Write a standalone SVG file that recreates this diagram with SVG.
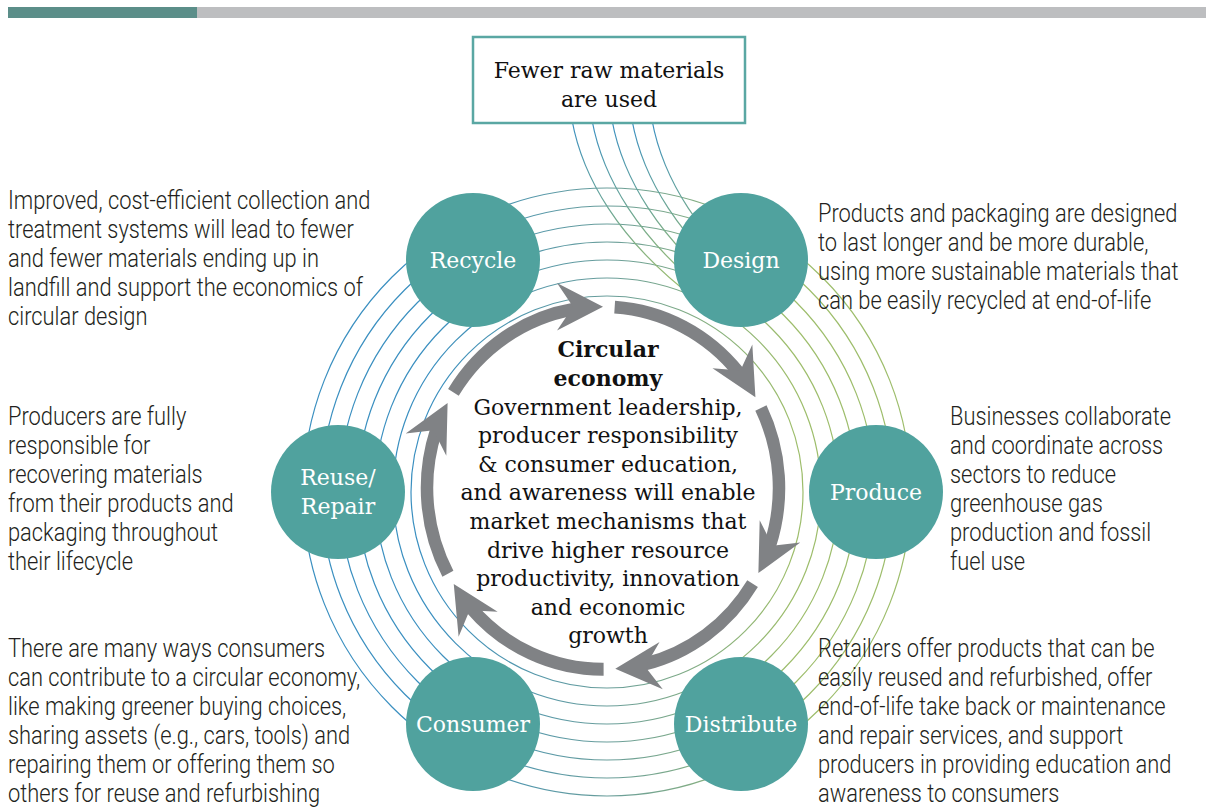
<svg xmlns="http://www.w3.org/2000/svg" width="1206" height="809" viewBox="0 0 1206 809">
<defs>
<style>
.side{font-family:Roboto,"Liberation Sans",sans-serif;font-weight:300;font-size:25px;fill:#231f20}
.lbl{font-family:"DejaVu Serif","Liberation Serif",serif;font-size:22px;fill:#ffffff;text-anchor:middle}
.ctr{font-family:"DejaVu Serif","Liberation Serif",serif;font-size:22px;fill:#111111;text-anchor:middle}
.node{fill:#50a29e}
.ring{fill:none;stroke:url(#gRing);stroke-width:1.2}
.bline{fill:none;stroke:url(#gBox);stroke-width:1.2}
.shaft{fill:none;stroke:#808285;stroke-width:12.5}
.head{fill:#808285}
</style>
<linearGradient id="gRing" gradientUnits="userSpaceOnUse" x1="430" y1="0" x2="790" y2="0">
<stop offset="0" stop-color="#3a8fc0"/>
<stop offset="0.5" stop-color="#6a9e9a"/>
<stop offset="1" stop-color="#9dbd6b"/>
</linearGradient>
<linearGradient id="gBox" gradientUnits="userSpaceOnUse" x1="0" y1="124" x2="0" y2="290">
<stop offset="0" stop-color="#3a8fc0"/>
<stop offset="1" stop-color="#9dbd6b"/>
</linearGradient>
<path id="ah" d="M176,0 L199,-46 L176,-30 L153,-46 Z"/>
</defs>
<rect width="1206" height="809" fill="#ffffff"/>
<rect x="8" y="7" width="189" height="11" fill="#5b8e89"/>
<rect x="197" y="7" width="1009" height="11" fill="#bdbec0"/>

<g id="connectors">
<g id="rings">
<circle class="ring" cx="607" cy="492" r="196"/>
<circle class="ring" cx="607" cy="492" r="214"/>
<circle class="ring" cx="607" cy="492" r="232"/>
<circle class="ring" cx="607" cy="492" r="250"/>
<circle class="ring" cx="607" cy="492" r="268"/>
<circle class="ring" cx="607" cy="492" r="286"/>
<circle class="ring" cx="607" cy="492" r="304"/>
</g>
<g id="box-lines">
<path class="bline" d="M572,120 C582,175 617,240 697,300"/>
<path class="bline" d="M592,120 C602,175 637,240 717,300"/>
<path class="bline" d="M612,120 C622,175 657,240 737,300"/>
<path class="bline" d="M632,120 C642,175 677,240 757,300"/>
<path class="bline" d="M652,120 C662,175 697,240 777,300"/>
</g>
<g id="cycle-arrows" transform="translate(603,488) scale(1,1.03)">
<path class="shaft" d="M11.67,-175.61 A176,176 0 0 1 135.80,-111.95"/>
<path class="shaft" d="M157.92,-77.70 A176,176 0 0 1 166.90,55.85"/>
<path class="shaft" d="M149.58,92.75 A176,176 0 0 1 41.08,171.14"/>
<path class="shaft" d="M0.61,176 A176,176 0 0 1 -131.82,116.62"/>
<path class="shaft" d="M-155.11,83.18 A176,176 0 0 1 -166.90,-55.85"/>
<path class="shaft" d="M-149.58,-92.75 A176,176 0 0 1 -29.04,-173.59"/>
<use href="#ah" class="head" transform="rotate(-30)"/>
<use href="#ah" class="head" transform="rotate(28)"/>
<use href="#ah" class="head" transform="rotate(86)"/>
<use href="#ah" class="head" transform="rotate(148)"/>
<use href="#ah" class="head" transform="rotate(208)"/>
<use href="#ah" class="head" transform="rotate(270)"/>
</g>
</g>

<g id="box">
<rect x="473" y="37" width="272" height="86" fill="#ffffff" stroke="#5aa7a3" stroke-width="2.5"/>
<text class="ctr" font-size="24" x="609" y="78">Fewer raw materials</text>
<text class="ctr" font-size="24" x="609" y="107">are used</text>
</g>

<g id="recycle"><circle class="node" cx="473" cy="260" r="67"/><text class="lbl" x="473" y="268">Recycle</text></g>
<g id="design"><circle class="node" cx="741" cy="260" r="67"/><text class="lbl" x="741" y="268">Design</text></g>
<g id="produce"><circle class="node" cx="876" cy="492" r="67"/><text class="lbl" x="876" y="500">Produce</text></g>
<g id="distribute"><circle class="node" cx="741" cy="724" r="67"/><text class="lbl" x="741" y="732">Distribute</text></g>
<g id="consumer"><circle class="node" cx="473" cy="724" r="67"/><text class="lbl" x="473" y="732">Consumer</text></g>
<g id="reuse"><circle class="node" cx="338" cy="492" r="67"/><text class="lbl" x="338" y="485">Reuse/</text><text class="lbl" x="338" y="514">Repair</text></g>

<g id="center-text">
<text class="ctr" x="608" y="357" font-weight="bold">Circular</text>
<text class="ctr" x="608" y="386" font-weight="bold">economy</text>
<text class="ctr" x="608" y="415">Government leadership,</text>
<text class="ctr" x="608" y="443">producer responsibility</text>
<text class="ctr" x="608" y="472">&amp; consumer education,</text>
<text class="ctr" x="608" y="500">and awareness will enable</text>
<text class="ctr" x="608" y="529">market mechanisms that</text>
<text class="ctr" x="608" y="558">drive higher resource</text>
<text class="ctr" x="608" y="586">productivity, innovation</text>
<text class="ctr" x="608" y="615">and economic</text>
<text class="ctr" x="608" y="643">growth</text>
</g>

<g id="text-recycle" transform="translate(8,0) scale(0.875,1)">
<text class="side"><tspan x="0" y="209">Improved, cost-efficient collection and</tspan><tspan x="0" y="238">treatment systems will lead to fewer</tspan><tspan x="0" y="267">and fewer materials ending up in</tspan><tspan x="0" y="296">landfill and support the economics of</tspan><tspan x="0" y="325">circular design</tspan></text>
</g>
<g id="text-design" transform="translate(818,0) scale(0.875,1)">
<text class="side"><tspan x="0" y="222">Products and packaging are designed</tspan><tspan x="0" y="251">to last longer and be more durable,</tspan><tspan x="0" y="280">using more sustainable materials that</tspan><tspan x="0" y="309">can be easily recycled at end-of-life</tspan></text>
</g>
<g id="text-produce" transform="translate(950,0) scale(0.875,1)">
<text class="side"><tspan x="0" y="425">Businesses collaborate</tspan><tspan x="0" y="454">and coordinate across</tspan><tspan x="0" y="483">sectors to reduce</tspan><tspan x="0" y="512">greenhouse gas</tspan><tspan x="0" y="541">production and fossil</tspan><tspan x="0" y="570">fuel use</tspan></text>
</g>
<g id="text-reuse" transform="translate(8,0) scale(0.875,1)">
<text class="side"><tspan x="0" y="425">Producers are fully</tspan><tspan x="0" y="454">responsible for</tspan><tspan x="0" y="483">recovering materials</tspan><tspan x="0" y="512">from their products and</tspan><tspan x="0" y="541">packaging throughout</tspan><tspan x="0" y="570">their lifecycle</tspan></text>
</g>
<g id="text-distribute" transform="translate(818,0) scale(0.875,1)">
<text class="side"><tspan x="0" y="657">Retailers offer products that can be</tspan><tspan x="0" y="686">easily reused and refurbished, offer</tspan><tspan x="0" y="715">end-of-life take back or maintenance</tspan><tspan x="0" y="744">and repair services, and support</tspan><tspan x="0" y="773">producers in providing education and</tspan><tspan x="0" y="802">awareness to consumers</tspan></text>
</g>
<g id="text-consumer" transform="translate(8,0) scale(0.875,1)">
<text class="side"><tspan x="0" y="657">There are many ways consumers</tspan><tspan x="0" y="686">can contribute to a circular economy,</tspan><tspan x="0" y="715">like making greener buying choices,</tspan><tspan x="0" y="744">sharing assets (e.g., cars, tools) and</tspan><tspan x="0" y="773">repairing them or offering them so</tspan><tspan x="0" y="802">others for reuse and refurbishing</tspan></text>
</g>
</svg>
